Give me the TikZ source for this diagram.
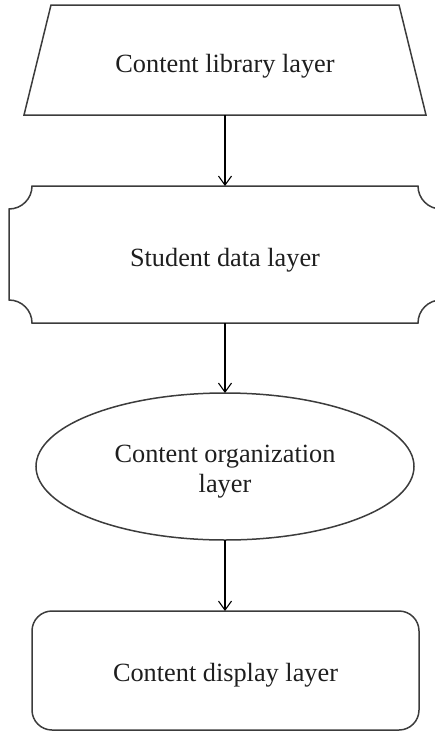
\documentclass[tikz,border=0pt]{standalone}
\usepackage{fontspec}
\setmainfont{Liberation Serif}
\usetikzlibrary{arrows.meta,shapes.geometric}
\definecolor{linegray}{RGB}{60,60,60}
\definecolor{textgray}{RGB}{30,30,30}
\tikzset{
  layerbox/.style={draw=none, outer sep=0pt, inner sep=0pt},
  layertext/.style={draw=none, inner sep=0pt, text=textgray,
    font=\fontsize{26.3pt}{30pt}\selectfont, align=center},
  outline/.style={draw=linegray, line width=1.5pt},
  flowarrow/.style={draw=black, line width=1.1pt, -{Straight Barb[length=9pt,width=13pt,line width=1.1pt]}}
}
\begin{document}
\begin{tikzpicture}[x=1pt,y=-1pt]
\clip (0,0) rectangle (435,731);
% content library layer (trapezoid)
\node[layerbox, minimum width=402pt, minimum height=110pt] (lib) at (225,60) {};
\draw[outline] ([xshift=27pt]lib.north west) -- ([xshift=-27pt]lib.north east)
  -- (lib.south east) -- (lib.south west) -- cycle;
\node[layertext] (libtext) at ([yshift=-6.5pt]lib.center) {Content library layer};
% student data layer (notched box)
\node[layerbox, minimum width=432pt, minimum height=137pt] (stu) at (225,254.5) {};
\draw[outline] ([xshift=23pt]stu.north west) -- ([xshift=-23pt]stu.north east)
  arc[start angle=180, end angle=270, radius=23pt]
  -- ([yshift=23pt]stu.south east)
  arc[start angle=90, end angle=180, radius=23pt]
  -- ([xshift=23pt]stu.south west)
  arc[start angle=0, end angle=90, radius=23pt]
  -- ([yshift=-23pt]stu.north west)
  arc[start angle=270, end angle=360, radius=23pt] -- cycle;
\node[layertext] (stutext) at ([yshift=-6pt]stu.center) {Student data layer};
% content organization layer (ellipse)
\node[layerbox, ellipse, draw=linegray, line width=1.5pt, minimum width=378pt, minimum height=147pt] (org) at (225,466.5) {};
\node[layertext] (orgtext) at ([yshift=-5pt]org.center) {Content organization\\layer};
% content display layer (rounded rectangle)
\node[layerbox, rectangle, draw=linegray, line width=1.5pt, rounded corners=20pt, minimum width=387pt, minimum height=119pt] (disp) at (225.5,670.5) {};
\node[layertext] (disptext) at ([yshift=-4.5pt]disp.center) {Content display layer};
% arrows
\draw[flowarrow] (lib.south) -- (lib.south |- stu.north);
\draw[flowarrow] (stu.south) -- (org.north);
\draw[flowarrow] (org.south) -- (org.south |- disp.north);
\end{tikzpicture}
\end{document}
